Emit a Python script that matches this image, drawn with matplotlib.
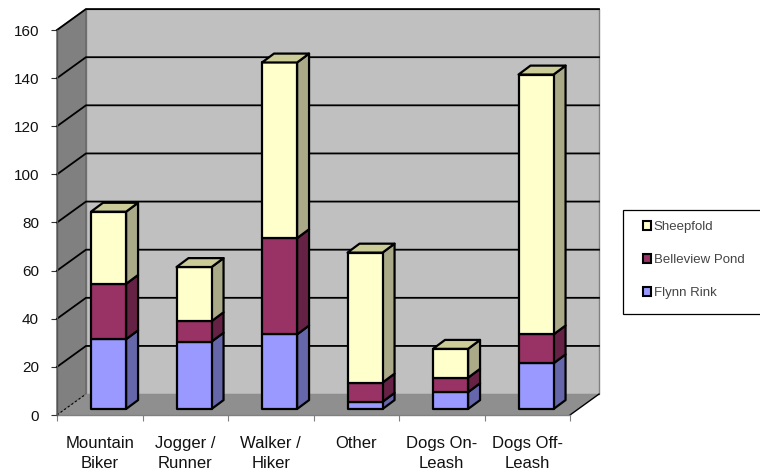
import matplotlib
matplotlib.use("Agg")
import matplotlib.pyplot as plt
from matplotlib.patches import Patch, Rectangle

plt.rcParams["font.family"] = ["Liberation Sans", "DejaVu Sans"]

categories = ["Mountain\nBiker", "Jogger /\nRunner", "Walker /\nHiker", "Other",
              "Dogs On-\nLeash", "Dogs Off-\nLeash"]
flynn_rink = [29, 28, 31, 3, 7, 19]
belleview_pond = [23, 8.5, 40, 8, 6, 12]
sheepfold = [30, 22.5, 73, 54, 12, 108]
y_ticks = [0, 20, 40, 60, 80, 100, 120, 140, 160]

series = [
    ("Flynn Rink", flynn_rink, "#9999ff", "#6666aa"),
    ("Belleview Pond", belleview_pond, "#993366", "#662244"),
    ("Sheepfold", sheepfold, "#ffffcc", "#aaaa88"),
]
top_colour = "#cccc99"

# 3d look: depth of the walls and bars in data units
wall_dx, wall_dy = 0.339, 8.7
bar_dx, bar_dy = 0.14, 3.7
bar_left, bar_width, bar_lift = 0.398, 0.41, 2.5

fig = plt.figure(figsize=(7.6, 4.73), dpi=100)
ax = fig.add_axes([57 / 760, 1 - 415 / 473, 513 / 760, 385 / 473])
ax.set_xlim(0, len(categories))
ax.set_ylim(0, 160)
ax.patch.set_visible(False)
for s in ax.spines.values():
    s.set_visible(False)


def poly(xs, ys, fc, ec="black", lw=1.6, z=3):
    ax.fill(xs, ys, facecolor=fc, edgecolor=ec, linewidth=lw, zorder=z,
            clip_on=False, joinstyle="round")


n = len(categories)
# walls and floor
poly([wall_dx, n + wall_dx, n + wall_dx, wall_dx],
     [wall_dy, wall_dy, 160 + wall_dy, 160 + wall_dy], "#c0c0c0", ec="#808080", lw=1, z=1)
poly([0, wall_dx, wall_dx, 0], [0, wall_dy, 160 + wall_dy, 160], "#808080", ec="#666666", lw=1, z=1)
poly([0, n, n + wall_dx, wall_dx], [0, 0, wall_dy, wall_dy], "#8f8f8f", ec="none", lw=0, z=1)

# gridlines over back and side wall
for v in y_ticks[1:]:
    ax.plot([0, wall_dx, n + wall_dx], [v, v + wall_dy, v + wall_dy],
            color="black", lw=1.3, zorder=2, clip_on=False)
ax.plot([0, wall_dx], [0, wall_dy], color="black", lw=0.8, ls=(0, (2, 2)), zorder=2, clip_on=False)
ax.plot([n, n + wall_dx], [0, wall_dy], color="black", lw=1, zorder=2, clip_on=False)
ax.plot([0, n], [0, 0], color="#808080", lw=1, zorder=2, clip_on=False)
ax.plot([0, 0], [0, 160], color="#555555", lw=1, zorder=2, clip_on=False)

# stacked bars
for i in range(n):
    x0 = i + bar_left
    x1 = x0 + bar_width
    base = bar_lift
    for name, values, front, side in series:
        v = values[i]
        poly([x1, x1 + bar_dx, x1 + bar_dx, x1],
             [base, base + bar_dy, base + v + bar_dy, base + v], side, z=3 + i)
        poly([x0, x1, x1, x0], [base, base, base + v, base + v], front, z=3 + i)
        base += v
    poly([x0, x1, x1 + bar_dx, x0 + bar_dx],
         [base, base, base + bar_dy, base + bar_dy], top_colour, z=3 + i)

ax.set_yticks(y_ticks)
ax.tick_params(axis="y", length=4, width=0.8, color="#333333", labelsize=11, pad=9,
               labelcolor="#111111")
ax.set_xticks(range(n + 1))
ax.set_xticklabels([])
ax.tick_params(axis="x", which="major", length=4, width=0.8, color="#808080")
ax.set_xticks([i + 0.5 for i in range(n)], minor=True)
ax.set_xticklabels(categories, minor=True, fontsize=12, color="#111111", linespacing=1.4)
ax.tick_params(axis="x", which="minor", length=0, pad=15)

# legend box sits apart from the entries, as in the original
fig.add_artist(Rectangle((623 / 760, 1 - 314 / 473), 140 / 760, 104 / 473,
                         transform=fig.transFigure, facecolor="white",
                         edgecolor="black", linewidth=0.9))
handles = [Patch(facecolor=c, edgecolor="black", linewidth=1.5, label=nm)
           for nm, _, c, _ in reversed(series)]
leg = fig.legend(handles=handles, loc="upper left", frameon=False, fontsize=9.5,
                 bbox_to_anchor=(643 / 760, 1 - 221 / 473), borderpad=0, borderaxespad=0,
                 labelspacing=1.6, handlelength=0.6, handleheight=0.6, handletextpad=0.2)
for t in leg.get_texts():
    t.set_color("#444444")

fig.savefig("out.png", dpi=100)
